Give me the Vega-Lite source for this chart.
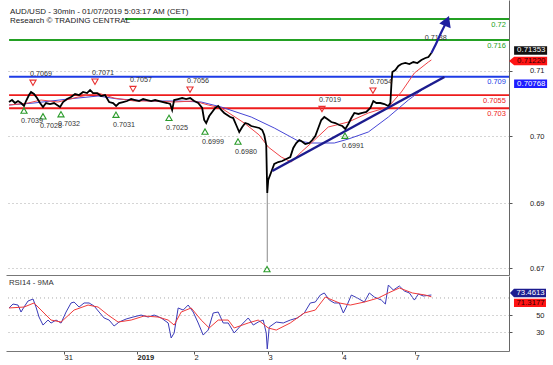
{
  "$schema": "https://vega.github.io/schema/vega-lite/v6.json",
  "padding": {"left": 5, "top": 0, "right": 0, "bottom": 0},
  "spacing": 1,
  "config": {
    "view": {"stroke": null},
    "font": "Liberation Sans",
    "axis": {"labelFont": "Liberation Sans", "labelColor": "#222", "domainColor": "#666", "tickColor": "#555", "title": null, "labelOverlap": false}
  },
  "datasets": {
    "price": [
      {"t":0.97,"p":0.70419},{"t":1.95,"p":0.70457},{"t":2.92,"p":0.704},{"t":3.89,"p":0.70438},{"t":4.87,"p":0.704},{"t":5.84,"p":0.70343},{"t":6.49,"p":0.70438},{"t":7.46,"p":0.70552},{"t":8.11,"p":0.7061},{"t":9.08,"p":0.70571},{"t":10.06,"p":0.70495},{"t":11.03,"p":0.704},{"t":12.0,"p":0.70324},{"t":12.97,"p":0.704},{"t":14.27,"p":0.70381},{"t":15.57,"p":0.704},{"t":16.54,"p":0.70362},{"t":17.52,"p":0.70324},{"t":18.49,"p":0.70419},{"t":19.79,"p":0.70476},{"t":21.08,"p":0.70514},{"t":22.38,"p":0.70571},{"t":23.68,"p":0.70552},{"t":24.98,"p":0.7061},{"t":26.27,"p":0.7059},{"t":27.25,"p":0.70648},{"t":28.22,"p":0.7059},{"t":29.52,"p":0.7059},{"t":30.81,"p":0.70533},{"t":32.11,"p":0.70552},{"t":33.41,"p":0.70419},{"t":34.71,"p":0.704},{"t":35.68,"p":0.70343},{"t":36.65,"p":0.704},{"t":37.95,"p":0.70419},{"t":39.25,"p":0.70438},{"t":40.55,"p":0.70476},{"t":41.84,"p":0.70457},{"t":43.14,"p":0.70438},{"t":44.44,"p":0.70476},{"t":45.74,"p":0.70457},{"t":47.03,"p":0.70438},{"t":48.33,"p":0.70457},{"t":49.63,"p":0.70438},{"t":50.93,"p":0.70419},{"t":52.22,"p":0.704},{"t":53.2,"p":0.70381},{"t":53.84,"p":0.70267},{"t":54.49,"p":0.70457},{"t":55.79,"p":0.70476},{"t":57.09,"p":0.70495},{"t":58.38,"p":0.70476},{"t":59.68,"p":0.70495},{"t":60.98,"p":0.70438},{"t":62.28,"p":0.704},{"t":63.57,"p":0.70305},{"t":64.22,"p":0.70076},{"t":64.87,"p":0.70019},{"t":65.85,"p":0.70152},{"t":66.82,"p":0.70229},{"t":67.79,"p":0.70305},{"t":68.77,"p":0.70343},{"t":69.74,"p":0.70267},{"t":70.71,"p":0.7021},{"t":71.68,"p":0.70171},{"t":72.66,"p":0.70133},{"t":73.63,"p":0.70114},{"t":74.6,"p":0.69981},{"t":75.58,"p":0.69848},{"t":76.55,"p":0.69943},{"t":77.52,"p":0.70019},{"t":78.5,"p":0.7},{"t":79.47,"p":0.69962},{"t":80.77,"p":0.69943},{"t":82.07,"p":0.69924},{"t":83.04,"p":0.69886},{"t":83.69,"p":0.6979},{"t":84.33,"p":0.696},{"t":84.66,"p":0.68686},{"t":84.98,"p":0.68933},{"t":85.95,"p":0.69086},{"t":86.93,"p":0.69238},{"t":88.23,"p":0.69276},{"t":89.52,"p":0.69295},{"t":90.82,"p":0.69333},{"t":92.12,"p":0.69371},{"t":93.09,"p":0.69543},{"t":94.06,"p":0.69638},{"t":95.03,"p":0.69695},{"t":95.68,"p":0.69676},{"t":96.98,"p":0.69619},{"t":98.28,"p":0.69638},{"t":99.25,"p":0.69695},{"t":100.23,"p":0.69771},{"t":101.2,"p":0.69924},{"t":102.17,"p":0.70076},{"t":103.15,"p":0.70133},{"t":104.12,"p":0.70095},{"t":105.42,"p":0.70038},{"t":106.72,"p":0.70019},{"t":108.01,"p":0.69981},{"t":108.99,"p":0.69962},{"t":109.96,"p":0.69905},{"t":110.93,"p":0.7},{"t":111.91,"p":0.70114},{"t":112.88,"p":0.7021},{"t":114.18,"p":0.70191},{"t":115.47,"p":0.7021},{"t":116.77,"p":0.70229},{"t":118.07,"p":0.70305},{"t":119.04,"p":0.70438},{"t":120.01,"p":0.704},{"t":121.31,"p":0.704},{"t":122.61,"p":0.70381},{"t":123.91,"p":0.70343},{"t":124.55,"p":0.704},{"t":124.88,"p":0.70743},{"t":125.2,"p":0.7099},{"t":126.18,"p":0.71029},{"t":127.15,"p":0.71105},{"t":128.12,"p":0.71143},{"t":129.42,"p":0.71162},{"t":130.72,"p":0.71143},{"t":132.01,"p":0.71181},{"t":133.31,"p":0.71162},{"t":134.61,"p":0.71219},{"t":135.91,"p":0.71257},{"t":136.88,"p":0.71276},{"t":137.85,"p":0.71353}
    ],
    "spike": [{"t":84.66,"low":0.67371,"high":0.68686}],
    "fastMA": [
      {"t":0.97,"p":0.70362},{"t":7.14,"p":0.704},{"t":11.35,"p":0.70457},{"t":16.87,"p":0.70419},{"t":23.35,"p":0.70514},{"t":29.84,"p":0.7059},{"t":35.03,"p":0.70495},{"t":41.52,"p":0.70438},{"t":48.01,"p":0.70438},{"t":54.49,"p":0.70419},{"t":60.98,"p":0.70438},{"t":65.52,"p":0.70362},{"t":69.74,"p":0.70305},{"t":77.2,"p":0.70019},{"t":82.07,"p":0.6979},{"t":84.98,"p":0.69562},{"t":89.2,"p":0.69371},{"t":92.44,"p":0.69276},{"t":95.68,"p":0.69467},{"t":98.93,"p":0.69638},{"t":104.44,"p":0.69943},{"t":110.93,"p":0.70038},{"t":117.42,"p":0.7021},{"t":123.91,"p":0.70324},{"t":128.12,"p":0.7061},{"t":132.34,"p":0.70971},{"t":136.88,"p":0.71181},{"t":137.85,"p":0.7122}
    ],
    "slowMA": [
      {"t":0.97,"p":0.70362},{"t":9.08,"p":0.704},{"t":20.11,"p":0.70476},{"t":29.84,"p":0.70533},{"t":36.33,"p":0.70476},{"t":47.03,"p":0.70438},{"t":55.79,"p":0.70438},{"t":63.25,"p":0.70419},{"t":69.74,"p":0.70324},{"t":79.47,"p":0.70133},{"t":86.93,"p":0.69924},{"t":94.71,"p":0.69676},{"t":98.93,"p":0.69638},{"t":106.39,"p":0.69638},{"t":110.93,"p":0.69714},{"t":117.42,"p":0.69848},{"t":123.91,"p":0.70133},{"t":130.39,"p":0.70457},{"t":135.5,"p":0.7068},{"t":137.85,"p":0.70768}
    ],
    "trend": [{"t":86.28,"p":0.69105},{"t":142.07,"p":0.70895}],
    "forecast": [{"t":137.85,"p":0.71353},{"t":139.47,"p":0.71543},{"t":141.1,"p":0.71752},{"t":142.4,"p":0.71905},{"t":142.9,"p":0.71962}],
    "levels": [
      {"price":0.72,"start":38.5,"kind":"Resistance","label":"0.72"},
      {"price":0.716,"start":1.0,"kind":"Resistance","label":"0.716"},
      {"price":0.709,"start":1.0,"kind":"Pivot","label":"0.709"},
      {"price":0.7055,"start":1.0,"kind":"Support","label":"0.7055"},
      {"price":0.703,"start":1.0,"kind":"Support","label":"0.703"}
    ],
    "pivots": [
      {"t":8.75,"p":0.7069,"label":"0.7069","kind":"high"},
      {"t":28.84,"p":0.7071,"label":"0.7071","kind":"high"},
      {"t":41.15,"p":0.7057,"label":"0.7057","kind":"high"},
      {"t":59.62,"p":0.7056,"label":"0.7056","kind":"high"},
      {"t":102.4,"p":0.7019,"label":"0.7019","kind":"high"},
      {"t":118.9,"p":0.7054,"label":"0.7054","kind":"high"},
      {"t":136.7,"p":0.7138,"label":"0.7138","kind":"last high"},
      {"t":5.83,"p":0.7039,"label":"0.7039","kind":"low"},
      {"t":11.99,"p":0.7028,"label":"0.7028","kind":"low"},
      {"t":17.82,"p":0.7032,"label":"0.7032","kind":"low"},
      {"t":35.64,"p":0.7031,"label":"0.7031","kind":"low"},
      {"t":52.82,"p":0.7025,"label":"0.7025","kind":"low"},
      {"t":64.49,"p":0.6999,"label":"0.6999","kind":"low"},
      {"t":75.18,"p":0.698,"label":"0.6980","kind":"low"},
      {"t":109.85,"p":0.6991,"label":"0.6991","kind":"low"},
      {"t":84.58,"p":0.6737,"label":"","kind":"low"}
    ],
    "lastValues": [
      {"series":"Price","value":0.71353,"label":"0.71353"},
      {"series":"Fast MA","value":0.7122,"label":"0.71220"},
      {"series":"Slow MA","value":0.70768,"label":"0.70768"}
    ],
    "rsi": [
      {"t":0.97,"v":58.4},{"t":2.27,"v":63.0},{"t":3.89,"v":61.8},{"t":4.87,"v":53.7},{"t":5.84,"v":59.5},{"t":7.14,"v":66.5},{"t":8.76,"v":68.8},{"t":9.73,"v":59.5},{"t":10.7,"v":47.9},{"t":12.0,"v":38.6},{"t":13.62,"v":44.4},{"t":14.6,"v":40.9},{"t":16.22,"v":44.4},{"t":17.84,"v":40.9},{"t":19.46,"v":53.7},{"t":21.08,"v":64.2},{"t":22.06,"v":65.3},{"t":23.68,"v":59.5},{"t":25.3,"v":64.2},{"t":26.92,"v":64.2},{"t":28.54,"v":60.7},{"t":30.17,"v":53.7},{"t":31.79,"v":46.8},{"t":33.41,"v":44.4},{"t":35.03,"v":37.5},{"t":36.65,"v":42.1},{"t":38.92,"v":45.6},{"t":41.19,"v":47.9},{"t":43.79,"v":50.2},{"t":46.06,"v":47.9},{"t":48.01,"v":50.2},{"t":50.28,"v":46.8},{"t":52.55,"v":41.0},{"t":53.52,"v":23.6},{"t":54.49,"v":29.4},{"t":55.79,"v":58.4},{"t":57.41,"v":56.0},{"t":59.03,"v":61.8},{"t":60.66,"v":53.7},{"t":62.28,"v":41.0},{"t":63.9,"v":27.0},{"t":65.52,"v":32.8},{"t":67.14,"v":52.6},{"t":68.77,"v":53.7},{"t":70.39,"v":41.0},{"t":72.01,"v":41.0},{"t":73.95,"v":29.4},{"t":76.23,"v":38.6},{"t":78.5,"v":46.8},{"t":80.12,"v":38.6},{"t":81.74,"v":42.1},{"t":83.36,"v":44.4},{"t":84.33,"v":29.4},{"t":84.66,"v":10.9},{"t":85.31,"v":36.3},{"t":87.58,"v":42.1},{"t":89.85,"v":41.0},{"t":92.12,"v":44.4},{"t":94.39,"v":46.8},{"t":96.66,"v":52.6},{"t":98.61,"v":64.2},{"t":100.23,"v":65.3},{"t":101.85,"v":73.4},{"t":103.15,"v":75.8},{"t":104.77,"v":67.6},{"t":106.39,"v":64.2},{"t":108.01,"v":64.2},{"t":109.31,"v":52.6},{"t":110.28,"v":59.5},{"t":111.91,"v":73.4},{"t":113.85,"v":70.0},{"t":116.12,"v":65.3},{"t":117.74,"v":75.8},{"t":119.36,"v":71.1},{"t":121.63,"v":67.6},{"t":122.93,"v":63.0},{"t":123.91,"v":85.0},{"t":125.53,"v":79.2},{"t":127.47,"v":83.9},{"t":129.1,"v":78.1},{"t":130.72,"v":75.8},{"t":132.34,"v":67.6},{"t":133.64,"v":74.6},{"t":135.26,"v":72.3},{"t":137.85,"v":73.46}
    ],
    "rsiMA": [
      {"t":0.97,"v":58.4},{"t":5.84,"v":59.5},{"t":9.08,"v":64.2},{"t":11.35,"v":56.0},{"t":14.6,"v":44.4},{"t":17.84,"v":42.1},{"t":22.06,"v":56.0},{"t":26.6,"v":61.8},{"t":29.84,"v":59.5},{"t":33.08,"v":50.2},{"t":36.33,"v":42.1},{"t":40.55,"v":44.4},{"t":44.76,"v":49.1},{"t":49.3,"v":47.9},{"t":52.55,"v":44.4},{"t":54.49,"v":38.6},{"t":56.76,"v":53.7},{"t":60.01,"v":58.4},{"t":63.25,"v":44.4},{"t":65.85,"v":35.2},{"t":68.77,"v":44.4},{"t":72.01,"v":44.4},{"t":73.95,"v":35.2},{"t":78.5,"v":41.0},{"t":81.74,"v":44.4},{"t":84.98,"v":35.2},{"t":87.58,"v":32.8},{"t":92.12,"v":41.0},{"t":96.66,"v":52.6},{"t":100.23,"v":56.0},{"t":103.47,"v":71.1},{"t":108.01,"v":64.2},{"t":111.58,"v":61.8},{"t":116.12,"v":65.3},{"t":120.66,"v":70.0},{"t":123.91,"v":75.8},{"t":127.47,"v":81.6},{"t":131.69,"v":75.8},{"t":135.91,"v":73.4},{"t":137.85,"v":71.32}
    ],
    "rsiLast": [
      {"series":"RSI","value":73.4613,"label":"73.4613"},
      {"series":"MA","value":71.3177,"label":"71.3177"}
    ]
  },
  "vconcat": [
    {
      "width": 503,
      "height": 275,
      "layer": [
        {
          "data": {"name": "levels"},
          "mark": {"type": "rule", "strokeWidth": 1.8},
          "encoding": {
            "x": {"field": "start", "type": "quantitative", "scale": {"domain": [0, 163], "nice": false, "zero": false},
                  "axis": {"orient": "bottom", "labels": false, "ticks": false, "grid": false, "domain": true, "domainColor": "#777"}},
            "x2": {"datum": 163},
            "y": {"field": "price", "type": "quantitative", "scale": {"domain": [0.67124, 0.72362], "nice": false, "zero": false},
                  "axis": {"orient": "right", "values": [0.7101, 0.69771, 0.68495, 0.67257],
                           "labelExpr": "datum.value > 0.705 ? '0.71' : datum.value > 0.69 ? '0.70' : datum.value > 0.68 ? '0.69' : '0.67'",
                           "tickSize": 3, "labelAlign": "right", "labelPadding": 32, "labelFontSize": 7.5, "labelBaseline": "middle",
                           "grid": true, "gridDash": [1, 3], "gridColor": "#aaa", "domainColor": "#666"}},
            "color": {"field": "kind", "type": "nominal", "scale": {"domain": ["Resistance", "Pivot", "Support"], "range": ["#23a023", "#1e3ce6", "#ee1c1c"]}, "legend": null}
          }
        },
        {
          "data": {"name": "levels"},
          "mark": {"type": "text", "align": "right", "baseline": "middle", "dy": 5.5, "fontSize": 7.5},
          "encoding": {
            "x": {"datum": 162},
            "y": {"field": "price", "type": "quantitative"},
            "text": {"field": "label"},
            "color": {"field": "kind", "type": "nominal", "legend": null}
          }
        },
        {
          "data": {"name": "slowMA"},
          "mark": {"type": "line", "color": "#4646d6", "strokeWidth": 1},
          "encoding": {"x": {"field": "t", "type": "quantitative"}, "y": {"field": "p", "type": "quantitative"}}
        },
        {
          "data": {"name": "fastMA"},
          "mark": {"type": "line", "color": "#f04448", "strokeWidth": 1},
          "encoding": {"x": {"field": "t", "type": "quantitative"}, "y": {"field": "p", "type": "quantitative"}}
        },
        {
          "data": {"name": "spike"},
          "mark": {"type": "rule", "color": "#888", "strokeWidth": 1},
          "encoding": {"x": {"field": "t", "type": "quantitative"}, "y": {"field": "low", "type": "quantitative"}, "y2": {"field": "high"}}
        },
        {
          "data": {"name": "price"},
          "mark": {"type": "line", "color": "#000", "strokeWidth": 1.8},
          "encoding": {"x": {"field": "t", "type": "quantitative"}, "y": {"field": "p", "type": "quantitative"}}
        },
        {
          "data": {"name": "trend"},
          "mark": {"type": "line", "color": "#1c1c8e", "strokeWidth": 2.5},
          "encoding": {"x": {"field": "t", "type": "quantitative"}, "y": {"field": "p", "type": "quantitative"}}
        },
        {
          "data": {"name": "pivots"},
          "transform": [{"filter": "datum.kind == 'high'"}],
          "mark": {"type": "point", "shape": "triangle-down", "size": 38, "filled": false, "color": "#e83030", "strokeWidth": 1.1, "opacity": 1, "yOffset": -5},
          "encoding": {"x": {"field": "t", "type": "quantitative"}, "y": {"field": "p", "type": "quantitative"}}
        },
        {
          "data": {"name": "pivots"},
          "transform": [{"filter": "datum.kind == 'low'"}],
          "mark": {"type": "point", "shape": "triangle-up", "size": 38, "filled": false, "color": "#2c9c2c", "strokeWidth": 1.1, "opacity": 1, "yOffset": 7},
          "encoding": {"x": {"field": "t", "type": "quantitative"}, "y": {"field": "p", "type": "quantitative"}}
        },
        {
          "data": {"name": "pivots"},
          "transform": [{"filter": "datum.kind != 'low'"}],
          "mark": {"type": "text", "align": "left", "baseline": "middle", "dx": -3, "yOffset": -14, "fontSize": 7.2, "color": "#333"},
          "encoding": {"x": {"field": "t", "type": "quantitative"}, "y": {"field": "p", "type": "quantitative"}, "text": {"field": "label"}}
        },
        {
          "data": {"name": "pivots"},
          "transform": [{"filter": "datum.kind == 'low' && datum.label != ''"}],
          "mark": {"type": "text", "align": "left", "baseline": "middle", "dx": -3, "yOffset": 17, "fontSize": 7.2, "color": "#333"},
          "encoding": {"x": {"field": "t", "type": "quantitative"}, "y": {"field": "p", "type": "quantitative"}, "text": {"field": "label"}}
        },
        {
          "data": {"name": "forecast"},
          "mark": {"type": "line", "color": "#1f1fa0", "strokeWidth": 2.2, "interpolate": "monotone"},
          "encoding": {"x": {"field": "t", "type": "quantitative"}, "y": {"field": "p", "type": "quantitative"}}
        },
        {
          "data": {"name": "forecast"},
          "transform": [{"filter": "datum.t > 142.5"}],
          "mark": {"type": "point", "shape": "triangle-up", "size": 150, "filled": true, "color": "#1f1fa0", "opacity": 1, "angle": 22},
          "encoding": {"x": {"field": "t", "type": "quantitative"}, "y": {"field": "p", "type": "quantitative"}}
        },
        {
          "data": {"values": [{"text": "AUD/USD - 30min - 01/07/2019 5:03:17 AM (CET)"}]},
          "mark": {"type": "text", "align": "left", "baseline": "middle", "fontSize": 8, "color": "#222"},
          "encoding": {"x": {"datum": 1.3}, "y": {"datum": 0.72133}, "text": {"field": "text"}}
        },
        {
          "data": {"values": [{"text": "Research © TRADING CENTRAL"}]},
          "mark": {"type": "text", "align": "left", "baseline": "middle", "fontSize": 8, "color": "#222"},
          "encoding": {"x": {"datum": 1.3}, "y": {"datum": 0.71962}, "text": {"field": "text"}}
        },
        {
          "data": {"name": "lastValues"},
          "transform": [{"filter": "datum.series == 'Price'"}],
          "mark": {"type": "point", "shape": "M-1.65,-0.42L1.65,-0.42L1.65,0.42L-1.65,0.42Z", "size": 400, "filled": true, "color": "#111", "opacity": 1, "strokeWidth": 0, "yOffset": -2.5},
          "encoding": {"x": {"datum": 170}, "y": {"field": "value", "type": "quantitative"}}
        },
        {
          "data": {"name": "lastValues"},
          "transform": [{"filter": "datum.series == 'Fast MA'"}],
          "mark": {"type": "point", "shape": "M-2.15,0L-1.65,-0.42L1.65,-0.42L1.65,0.42L-1.65,0.42Z", "size": 400, "filled": true, "color": "#ff1414", "opacity": 1, "strokeWidth": 0, "yOffset": 1},
          "encoding": {"x": {"datum": 170}, "y": {"field": "value", "type": "quantitative"}}
        },
        {
          "data": {"name": "lastValues"},
          "transform": [{"filter": "datum.series == 'Slow MA'"}],
          "mark": {"type": "point", "shape": "M-1.65,-0.42L1.65,-0.42L1.65,0.42L-1.65,0.42Z", "size": 400, "filled": true, "color": "#1e1eff", "opacity": 1, "strokeWidth": 0},
          "encoding": {"x": {"datum": 170}, "y": {"field": "value", "type": "quantitative"}}
        },
        {
          "data": {"name": "lastValues"},
          "transform": [{"filter": "datum.series == 'Price'"}],
          "mark": {"type": "text", "align": "center", "baseline": "middle", "fontSize": 7.8, "color": "#fff", "yOffset": -2.5},
          "encoding": {"x": {"datum": 170.2}, "y": {"field": "value", "type": "quantitative"}, "text": {"field": "label"}}
        },
        {
          "data": {"name": "lastValues"},
          "transform": [{"filter": "datum.series == 'Fast MA'"}],
          "mark": {"type": "text", "align": "center", "baseline": "middle", "fontSize": 7.8, "color": "#300", "yOffset": 1},
          "encoding": {"x": {"datum": 170.2}, "y": {"field": "value", "type": "quantitative"}, "text": {"field": "label"}}
        },
        {
          "data": {"name": "lastValues"},
          "transform": [{"filter": "datum.series == 'Slow MA'"}],
          "mark": {"type": "text", "align": "center", "baseline": "middle", "fontSize": 7.8, "color": "#fff"},
          "encoding": {"x": {"datum": 170.2}, "y": {"field": "value", "type": "quantitative"}, "text": {"field": "label"}}
        }
      ]
    },
    {
      "width": 503,
      "height": 75,
      "layer": [
        {
          "data": {"name": "rsi"},
          "mark": {"type": "line", "color": "#3a3ab8", "strokeWidth": 1},
          "encoding": {
            "x": {"field": "t", "type": "quantitative", "scale": {"domain": [0, 163], "nice": false, "zero": false},
                  "axis": {"orient": "bottom", "values": [18.8, 42.45, 60.92, 84.9, 108.88, 132.54],
                           "labelExpr": "datum.value < 30 ? '31' : datum.value < 50 ? '2019' : datum.value < 70 ? '2' : datum.value < 95 ? '3' : datum.value < 120 ? '4' : '7'",
                           "labelFontWeight": {"condition": {"test": "datum.value > 40 && datum.value < 45", "value": "bold"}, "value": "normal"},
                           "tickSize": 3, "labelAlign": "left", "labelDx": 2, "labelPadding": -1, "labelFontSize": 7.5,
                           "grid": false, "domainColor": "#777"}},
            "y": {"field": "v", "type": "quantitative", "scale": {"domain": [8.5, 95.5], "nice": false, "zero": false},
                  "axis": {"orient": "right", "values": [30, 50], "format": "d",
                           "tickSize": 3, "labelAlign": "right", "labelPadding": 32, "labelFontSize": 7.5, "labelBaseline": "middle",
                           "grid": true, "gridDash": [1, 3], "gridColor": "#aaa", "domainColor": "#666"}}
          }
        },
        {
          "data": {"values": [{"level": 70}]},
          "mark": {"type": "rule", "color": "#aaa", "strokeDash": [1, 3], "strokeWidth": 1},
          "encoding": {"y": {"field": "level", "type": "quantitative"}}
        },
        {
          "data": {"name": "rsiMA"},
          "mark": {"type": "line", "color": "#f03a3a", "strokeWidth": 1},
          "encoding": {"x": {"field": "t", "type": "quantitative"}, "y": {"field": "v", "type": "quantitative"}}
        },
        {
          "data": {"values": [{"text": "RSI14 - 9MA"}]},
          "mark": {"type": "text", "align": "left", "baseline": "middle", "fontSize": 7.8, "color": "#333"},
          "encoding": {"x": {"datum": 0.97}, "y": {"datum": 87.4}, "text": {"field": "text"}}
        },
        {
          "data": {"name": "rsiLast"},
          "transform": [{"filter": "datum.series == 'RSI'"}],
          "mark": {"type": "point", "shape": "M-2.0,0L-1.6,-0.42L1.6,-0.42L1.6,0.42L-1.6,0.42Z", "size": 400, "filled": true, "color": "#1b1b8f", "opacity": 1, "strokeWidth": 0, "yOffset": -2},
          "encoding": {"x": {"datum": 169.8}, "y": {"field": "value", "type": "quantitative"}}
        },
        {
          "data": {"name": "rsiLast"},
          "transform": [{"filter": "datum.series == 'MA'"}],
          "mark": {"type": "point", "shape": "M-1.6,-0.42L1.6,-0.42L1.6,0.42L-1.6,0.42Z", "size": 400, "filled": true, "color": "#ff1414", "opacity": 1, "strokeWidth": 0, "yOffset": 6},
          "encoding": {"x": {"datum": 169.8}, "y": {"field": "value", "type": "quantitative"}}
        },
        {
          "data": {"name": "rsiLast"},
          "transform": [{"filter": "datum.series == 'RSI'"}],
          "mark": {"type": "text", "align": "center", "baseline": "middle", "fontSize": 7.8, "color": "#fff", "yOffset": -2},
          "encoding": {"x": {"datum": 170}, "y": {"field": "value", "type": "quantitative"}, "text": {"field": "label"}}
        },
        {
          "data": {"name": "rsiLast"},
          "transform": [{"filter": "datum.series == 'MA'"}],
          "mark": {"type": "text", "align": "center", "baseline": "middle", "fontSize": 7.8, "color": "#300", "yOffset": 6},
          "encoding": {"x": {"datum": 170}, "y": {"field": "value", "type": "quantitative"}, "text": {"field": "label"}}
        }
      ]
    }
  ]
}
